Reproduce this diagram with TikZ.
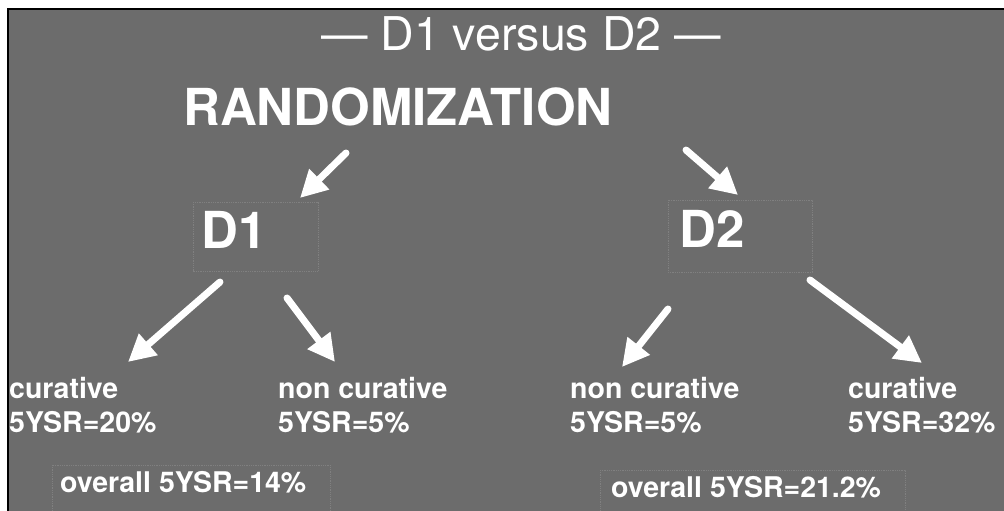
\documentclass[tikz,border=0pt]{standalone}
\usepackage{fontspec}
\setmainfont{TeX Gyre Heros}
\usetikzlibrary{arrows.meta,calc}
\definecolor{bggray}{RGB}{108,108,108}
\definecolor{faint}{RGB}{128,128,128}
\tikzset{
  lbl/.style={anchor=base west, inner sep=0pt, text=white, align=left,
    font=\fontsize{28.5}{34}\selectfont\bfseries},
  big/.style={anchor=base west, inner sep=0pt, text=white,
    font=\fontsize{51}{56}\selectfont\bfseries},
  ttl/.style={anchor=base, inner sep=0pt, text=white,
    font=\fontsize{46.5}{52}\selectfont},
  arr/.style={draw=white, line width=7pt, line cap=round,
    -{Triangle[length=27pt,width=27pt]}},
  faintbox/.style={draw=faint, line width=0.8pt, densely dotted}
}
\begin{document}
\begin{tikzpicture}[x=1pt,y=-1pt]
\useasboundingbox (0,0) rectangle (1004,511);
\fill[white] (0,0) rectangle (1004,511);
\fill[bggray] (8,9) rectangle (1004,511);
\draw[black, line width=1.2pt] (8,511) -- (8,9) -- (1004,9);
% faint boxes
\draw[faintbox] (193,202) rectangle (318,271);
\draw[faintbox] (668,200) rectangle (812,272);
\draw[faintbox] (52,465) rectangle (330,511);
\draw[faintbox] (600,470) rectangle (905,511);
% texts
\node[ttl] (T) at (521,51) {— D1 versus D2 —};
\node[big] (R) at (183,125) {RANDOMIZATION};
\node[big] (D1) at (201,248) {D1};
\node[big] (D2) at (679,247) {D2};
\node[lbl] (c1) at (9,432) {curative\\5YSR=20\%};
\node[lbl] (n1) at (278,432) {non curative\\5YSR=5\%};
\node[lbl] (n2) at (570,432) {non curative\\5YSR=5\%};
\node[lbl] (c2) at (848,432) {curative\\5YSR=32\%};
\node[lbl] (o1) at (60,492) {overall 5YSR=14\%};
\node[lbl] (o2) at (611,497) {overall 5YSR=21.2\%};
% arrows
\draw[arr] ($(R.base west)+(163,28)$) -- ($(D1.base west)+(99,-50)$);
\draw[arr] ($(R.base west)+(503,25)$) -- ($(D2.base west)+(59,-52)$);
\draw[arr] ($(D1.base west)+(19,34)$) -- ($(c1.base west)+(119,-70)$);
\draw[arr] ($(D1.base west)+(86,50)$) -- ($(n1.base west)+(57,-70)$);
\draw[arr] ($(D2.base west)+(-11,62)$) -- ($(n2.base west)+(52,-65)$);
\draw[arr] ($(D2.base west)+(131,33)$) -- ($(c2.base west)+(74,-69)$);
\end{tikzpicture}
\end{document}
